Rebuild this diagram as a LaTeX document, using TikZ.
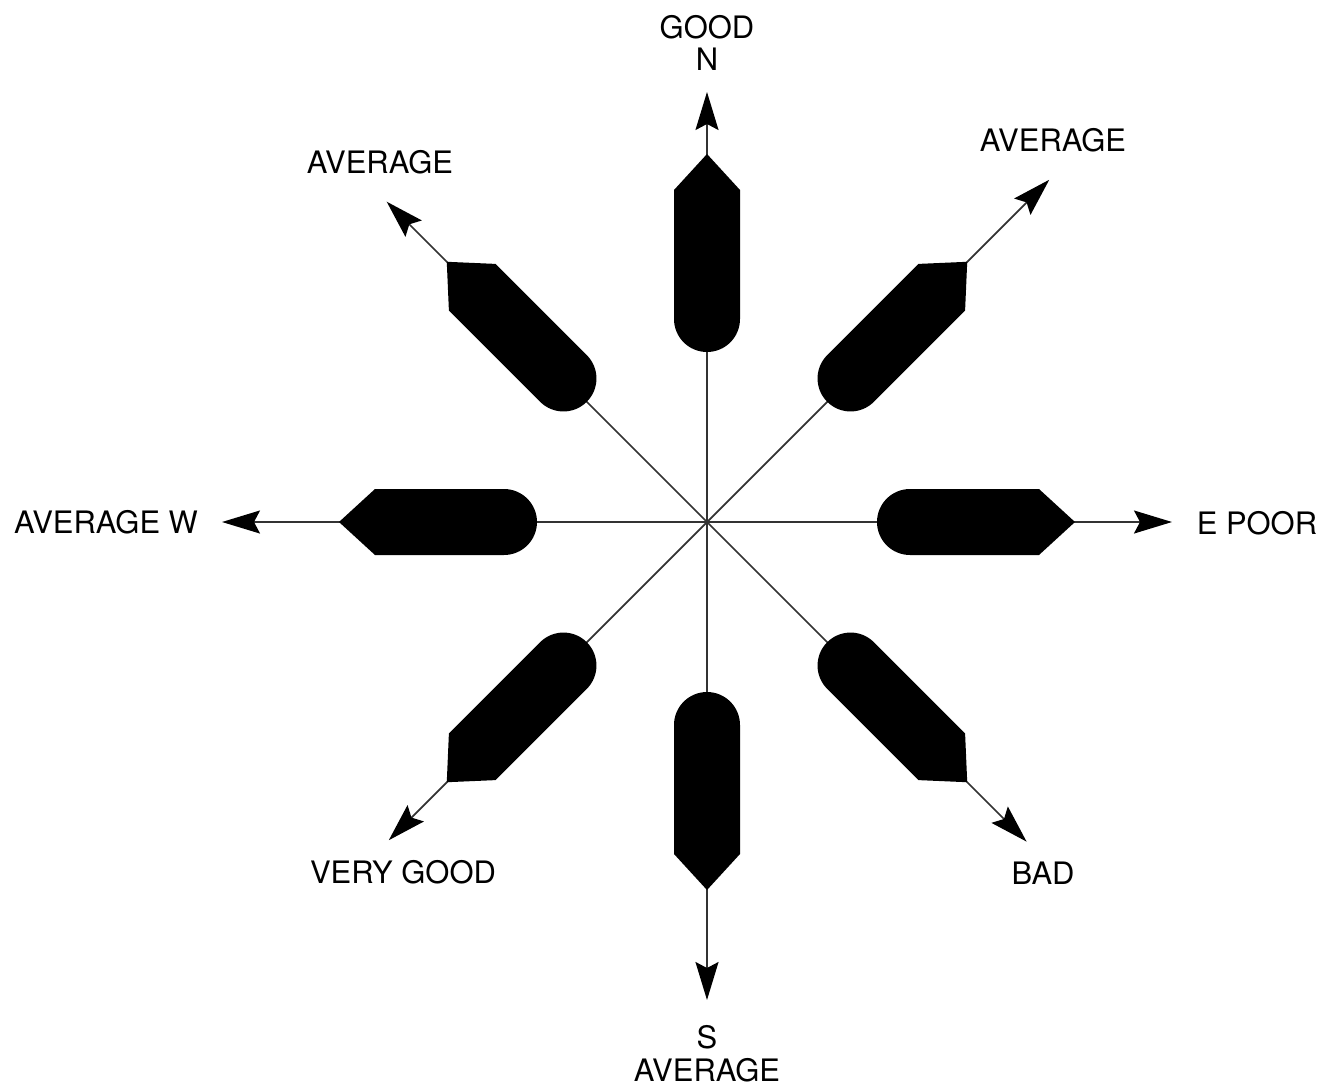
\documentclass[tikz,border=0pt]{standalone}
\usepackage{fontspec}
\setmainfont{TeX Gyre Heros}
\usetikzlibrary{arrows.meta}

\begin{document}
\begin{tikzpicture}[
    every node/.style={font=\fontsize{17.6}{18.6}\selectfont, inner sep=0pt, align=center},
    ray/.style={line width=1pt, draw=black!80, -{Stealth[length=7.6mm, width=4.6mm, inset=1.2mm, black]}},
    blade/.pic={
        \fill[black] (4.06,-0.66) -- (6.64,-0.66) -- (7.36,0) -- (6.64,0.66)
            -- (4.06,0.66) arc[start angle=90, end angle=270, radius=0.66] -- cycle;
    }
]
    \useasboundingbox (-14.14,-11.34) rectangle (12.28,10.44);
    \coordinate (o) at (0,0);

    % arrow ends
    \coordinate (tipN)  at (90:8.6);
    \coordinate (tipNE) at (45:9.68);
    \coordinate (tipE)  at (0:9.3);
    \coordinate (tipSE) at (-45:9.04);
    \coordinate (tipS)  at (-90:9.56);
    \coordinate (tipSW) at (-135:9.0);
    \coordinate (tipW)  at (180:9.7);
    \coordinate (tipNW) at (135:9.06);

    \draw[ray] (o) -- (tipN);
    \draw[ray] (o) -- (tipNE);
    \draw[ray] (o) -- (tipE);
    \draw[ray] (o) -- (tipSE);
    \draw[ray] (o) -- (tipS);
    \draw[ray] (o) -- (tipSW);
    \draw[ray] (o) -- (tipW);
    \draw[ray] (o) -- (tipNW);

    \pic[rotate=90]   at (o) {blade};
    \pic[rotate=45]   at (o) {blade};
    \pic[rotate=0]    at (o) {blade};
    \pic[rotate=-45]  at (o) {blade};
    \pic[rotate=-90]  at (o) {blade};
    \pic[rotate=-135] at (o) {blade};
    \pic[rotate=180]  at (o) {blade};
    \pic[rotate=135]  at (o) {blade};

    \node (lN)  at (0,9.58)       {GOOD\\N};
    \node (lNE) at (6.92,7.64)    {AVERAGE};
    \node (lE)  at (11.0,-0.02)   {E POOR};
    \node (lSE) at (6.72,-7.02)   {BAD};
    \node (lS)  at (0,-10.64)     {S\\AVERAGE};
    \node (lSW) at (-6.08,-7.0)   {VERY GOOD};
    \node (lW)  at (-12.02,0)     {AVERAGE W};
    \node (lNW) at (-6.54,7.2)    {AVERAGE};
\end{tikzpicture}
\end{document}
